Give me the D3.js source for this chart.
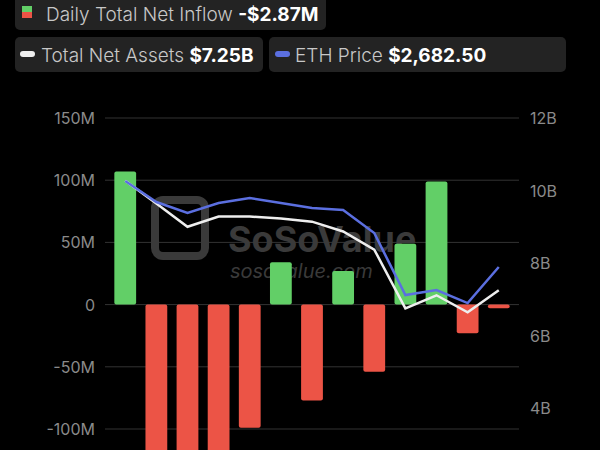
<!DOCTYPE html><html><head><script src="https://cdn.jsdelivr.net/npm/d3@7"></script>
<style>body{margin:0;background:#000}</style></head><body><svg id="c" width="600" height="450"></svg>
<script>
const days = ["D1","D2","D3","D4","D5","D6","D7","D8","D9","D10","D11","D12","D13"];
const inflow = [107,-135,-150,-125,-99,34,-77,27,-54,49,99,-23,-2.87];
const netAssets = [10.27,9.64,9.0,9.28,9.28,9.23,9.14,8.87,8.37,6.75,7.11,6.64,7.25];
const ethPrice = [3542,3332,3222,3322,3372,3322,3272,3252,3022,2402,2452,2322,2682.5];
const leftTicks = [150,100,50,0,-50,-100];
const rightTicks = [12,10,8,6,4];
const fmtL = v => v===0?"0":v+"M";
const svg = d3.select("#c");
const font = "Inter, 'Noto Sans', sans-serif";
const x = d3.scaleBand().domain(days).range([105,519]).padding(0.3);
const yL = d3.scaleLinear().domain([-100,150]).range([429,118]);
const yR = d3.scaleLinear().domain([4,12]).range([408,118]);
const yE = d3.scaleLinear().domain([1500,4500]).range([385.25,85.25]);
svg.append("rect").attr("width",600).attr("height",450).attr("fill","#000");
svg.selectAll(".g").data(leftTicks).join("line").attr("x1",105).attr("x2",519)
 .attr("y1",d=>yL(d)).attr("y2",d=>yL(d)).attr("stroke","#333").attr("stroke-width",1);
svg.selectAll(".lt").data(leftTicks).join("text").attr("x",95).attr("y",d=>yL(d)+6)
 .attr("text-anchor","end").attr("fill","#8a8a8a").attr("font-size",16).attr("font-family",font).text(fmtL);
svg.selectAll(".rt").data(rightTicks).join("text").attr("x",530).attr("y",d=>yR(d)+6)
 .attr("fill","#8a8a8a").attr("font-size",16).attr("font-family",font).text(d=>d+"B");
// watermark
svg.append("text").attr("x",228).attr("y",252).attr("fill","#3a3a3a").attr("font-size",36).attr("font-weight",700).attr("font-family",font).text("SoSoValue");
svg.append("text").attr("x",230).attr("y",256+22).attr("fill","#3a3a3a").attr("font-size",20).attr("font-style","italic").attr("font-family",font).text("sosovalue.com");
svg.append("rect").attr("x",155).attr("y",200).attr("width",50).attr("height",56).attr("rx",8).attr("fill","none").attr("stroke","#3a3a3a").attr("stroke-width",8);
svg.selectAll(".b").data(inflow).join("rect")
 .attr("x",(d,i)=>x(days[i])).attr("width",x.bandwidth())
 .attr("y",d=>yL(Math.max(0,d))).attr("height",d=>Math.max(3,Math.abs(yL(d)-yL(0))))
 .attr("rx",2).attr("fill",d=>d>=0?"#62cf67":"#ec5446");
const cx = i => x(days[i])+x.bandwidth()/2;
svg.append("path").datum(netAssets).attr("fill","none").attr("stroke","#eeeeee").attr("stroke-width",2.5)
 .attr("d",d3.line().x((d,i)=>cx(i)).y(d=>yR(d)));
svg.append("path").datum(ethPrice).attr("fill","none").attr("stroke","#5b6fe0").attr("stroke-width",2.5)
 .attr("d",d3.line().x((d,i)=>cx(i)).y(d=>yE(d)));
function box(x0,y0,w,h){svg.append("rect").attr("x",x0).attr("y",y0).attr("width",w).attr("height",h).attr("rx",5).attr("fill","#232323");}
box(15,-6,311,36); box(15,37,248,35); box(269,37,297,35);
svg.append("rect").attr("x",22).attr("y",6).attr("width",10).attr("height",6).attr("fill","#62cf67");
svg.append("rect").attr("x",22).attr("y",12).attr("width",10).attr("height",6).attr("fill","#ec5446");
svg.append("rect").attr("x",20).attr("y",51).attr("width",15).attr("height",6).attr("rx",3).attr("fill","#eee");
svg.append("rect").attr("x",275).attr("y",51).attr("width",15).attr("height",6).attr("rx",3).attr("fill","#5b6fe0");
function lt(x0,y0,a,b,w1){const t=svg.append("text").attr("x",x0).attr("y",y0).attr("font-size",19).attr("font-family",font);
 t.append("tspan").attr("fill","#c8c8c8").attr("font-weight",300).text(a+" ");t.append("tspan").attr("fill","#fff").attr("font-weight",700).text(b);}
lt(46,21,"Daily Total Net Inflow","-$2.87M");
lt(41,62,"Total Net Assets","$7.25B");
lt(295,62,"ETH Price","$2,682.50");
</script></body></html>
